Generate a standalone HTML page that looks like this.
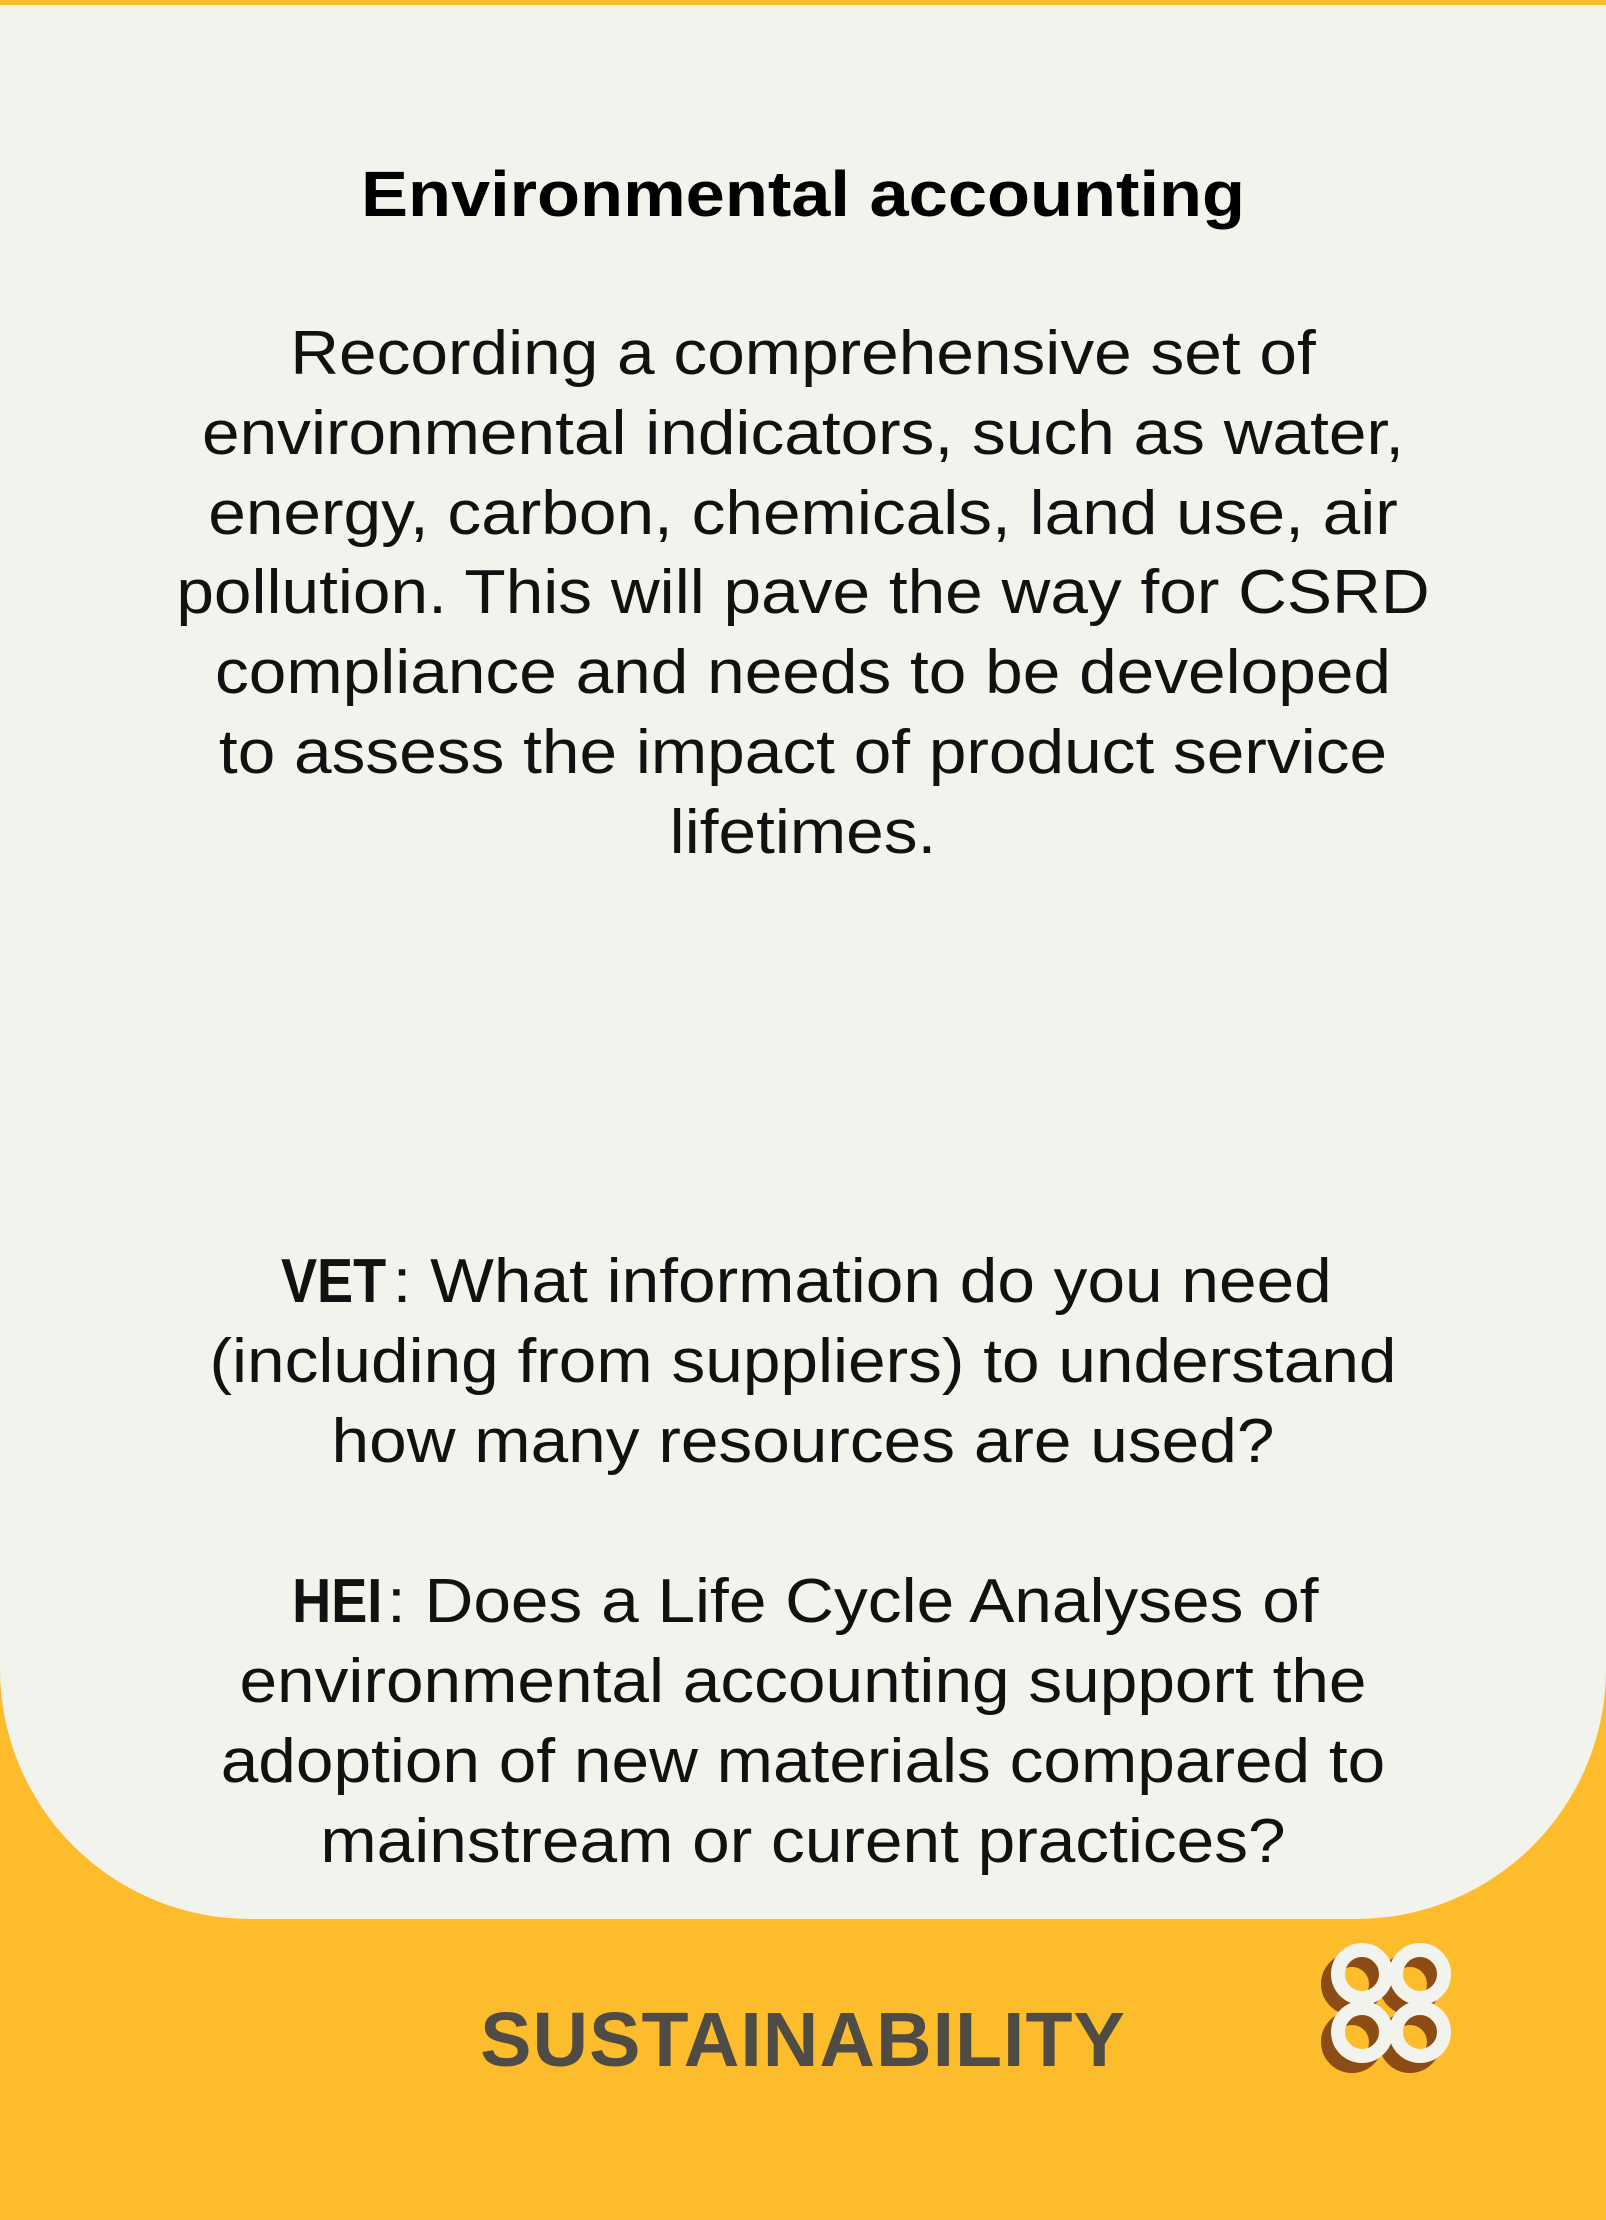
<!DOCTYPE html>
<html><head><meta charset="utf-8"><style>
html,body{margin:0;padding:0}
body{width:1606px;height:2220px;position:relative;overflow:hidden;background:#fcbc2c;font-family:"Liberation Sans",sans-serif}
#card{position:absolute;left:0;top:5px;width:1606px;height:1914px;background:#f3f3ee;border-radius:0 0 250px 250px}
.l{position:absolute;left:0;width:1606px;text-align:center;height:80px;line-height:80px;font-size:62px;color:#111;white-space:nowrap;transform:scaleX(1.09)}
.t{font-weight:bold;font-size:64px;color:#000;transform:scaleX(1.1)}
.k{font-weight:bold;display:inline-block;transform:scaleX(.8);margin:0 -6px}
#sus{position:absolute;left:0;width:1606px;text-align:center;top:1995px;font-size:77px;font-weight:bold;line-height:90px;color:#4f4b45;letter-spacing:1px}
</style></head><body>
<div id="card"></div>
<div class="l t" style="top:154px">Environmental accounting</div>
<div>
<div class="l" style="top:314px">Recording a comprehensive set of</div>
<div class="l" style="top:394px">environmental indicators, such as water,</div>
<div class="l" style="top:474px">energy, carbon, chemicals, land use, air</div>
<div class="l" style="top:553px">pollution. This will pave the way for CSRD</div>
<div class="l" style="top:633px">compliance and needs to be developed</div>
<div class="l" style="top:713px">to assess the impact of product service</div>
<div class="l" style="top:793px">lifetimes.</div>
</div>
<div>
<div class="l" style="top:1242px"><span class="k">VET</span>: What information do you need</div>
<div class="l" style="top:1322px">(including from suppliers) to understand</div>
<div class="l" style="top:1402px">how many resources are used?</div>
</div>
<div>
<div class="l" style="top:1562px"><span class="k">HEI</span>: Does a Life Cycle Analyses of</div>
<div class="l" style="top:1642px">environmental accounting support the</div>
<div class="l" style="top:1722px">adoption of new materials compared to</div>
<div class="l" style="top:1802px">mainstream or curent practices?</div>
</div>
<div id="sus">SUSTAINABILITY</div>
<svg style="position:absolute;left:1320px;top:1930px" width="150" height="150" viewBox="0 0 150 150">
<g fill="none" stroke="#8b4c16" stroke-width="14" transform="translate(-10,10)">
<circle cx="42" cy="44" r="24"/><circle cx="100" cy="44" r="24"/><circle cx="42" cy="102" r="24"/><circle cx="100" cy="102" r="24"/>
</g>
<g fill="none" stroke="#f3f3ee" stroke-width="14">
<circle cx="42" cy="44" r="24"/><circle cx="100" cy="44" r="24"/><circle cx="42" cy="102" r="24"/><circle cx="100" cy="102" r="24"/>
</g>
</svg>
</body></html>
